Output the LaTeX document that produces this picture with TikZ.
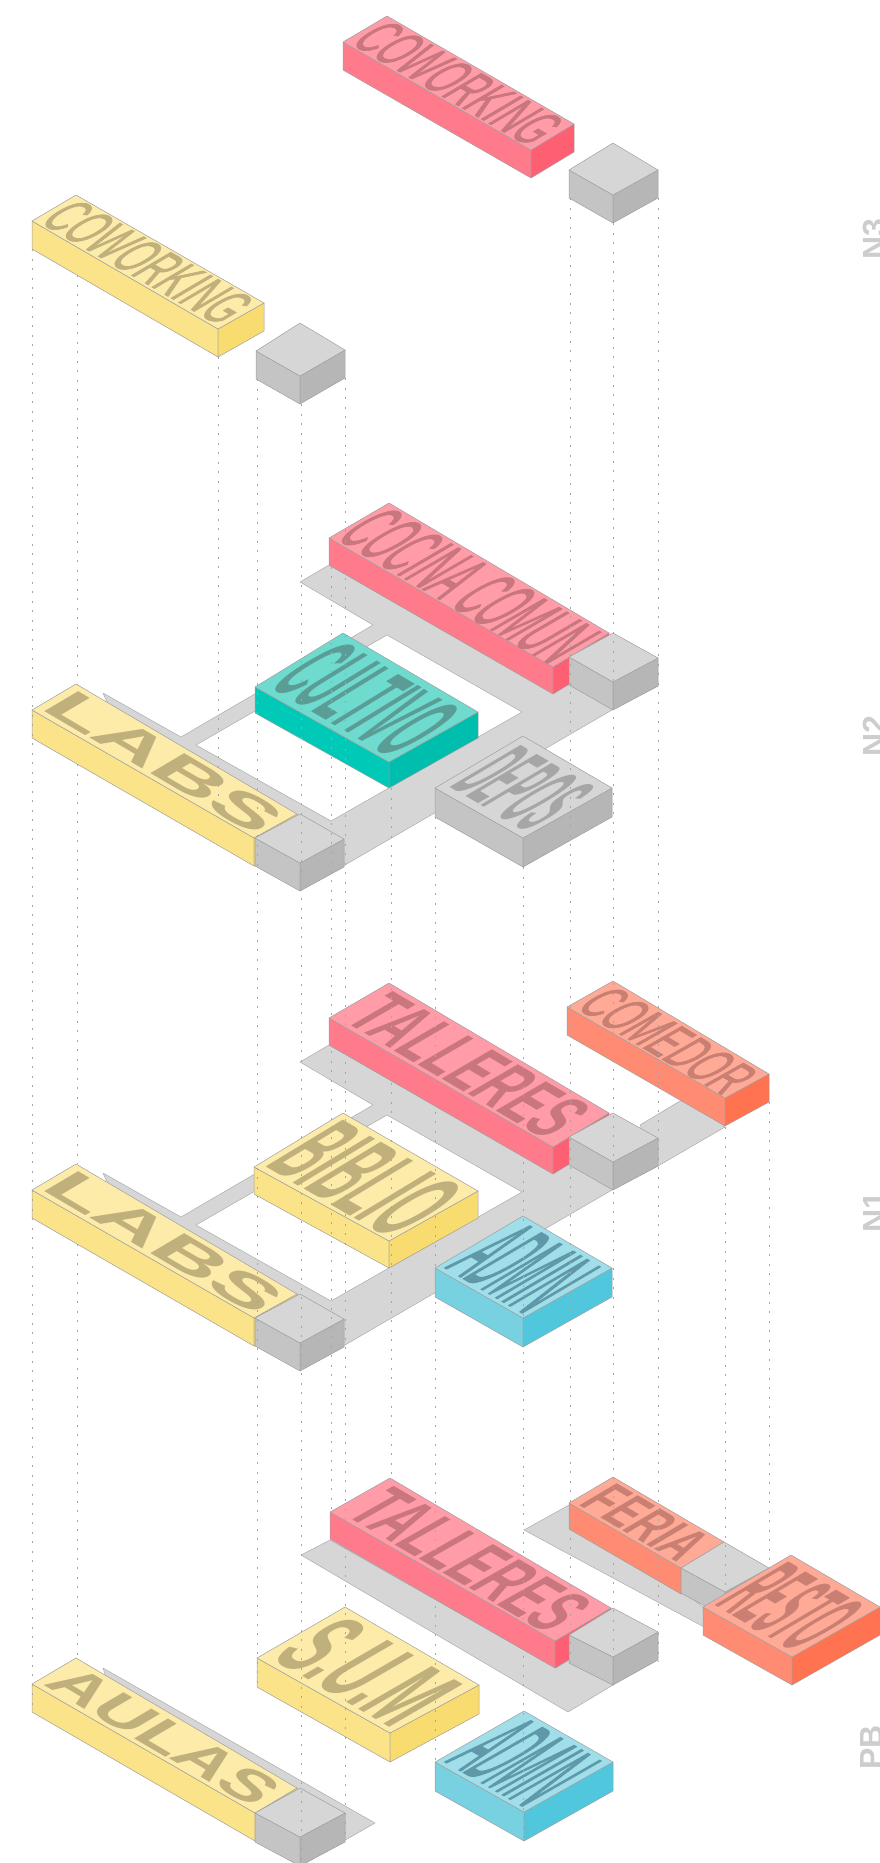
\documentclass[tikz,border=0pt]{standalone}
\usepackage{fontspec}
\setmainfont{Liberation Sans}
\newfontfamily\mediafont[FakeBold=1.6]{Liberation Sans}
\usetikzlibrary{calc}

\definecolor{rosaTop}{HTML}{FF9CA7}
\definecolor{rosaLeft}{HTML}{FF7B8B}
\definecolor{rosaRight}{HTML}{FF5F72}
\definecolor{rosaTxt}{HTML}{C9767F}
\definecolor{amaTop}{HTML}{FCEBA9}
\definecolor{amaLeft}{HTML}{FBE38A}
\definecolor{amaRight}{HTML}{F9DC70}
\definecolor{amaTxt}{HTML}{BFB07C}
\definecolor{grisTop}{HTML}{D6D6D6}
\definecolor{grisLeft}{HTML}{C4C4C4}
\definecolor{grisRight}{HTML}{B6B6B6}
\definecolor{grisTxt}{HTML}{A6A6A6}
\definecolor{tealTop}{HTML}{6FDACE}
\definecolor{tealLeft}{HTML}{00C9B7}
\definecolor{tealRight}{HTML}{00BEAD}
\definecolor{tealTxt}{HTML}{5A9D96}
\definecolor{coralTop}{HTML}{FFAA97}
\definecolor{coralLeft}{HTML}{FF8C72}
\definecolor{coralRight}{HTML}{FF7350}
\definecolor{coralTxt}{HTML}{C97F71}
\definecolor{azulTop}{HTML}{A0DEEA}
\definecolor{azulLeft}{HTML}{78D1E0}
\definecolor{azulRight}{HTML}{50C7DC}
\definecolor{azulTxt}{HTML}{5F99A9}

\tikzset{
  borde/.style={draw=gray!75, line width=.5pt, line join=round},
  piso/.style={fill=grisTop, draw=gray!65, line width=.5pt, line join=round},
  punteada/.style={gray!70, line width=1pt, dash pattern=on 2pt off 7.5pt},
  nivel/.style={rotate=90, anchor=base west, inner sep=0pt, text=grisTop!90!gray, font=\fontsize{32}{32}\selectfont\bfseries}
}

% bloque: nombre, esquinas L T R F de la tapa, altura, familia de color
\newcommand{\bloque}[7]{
  \coordinate (#1L) at (#2);
  \coordinate (#1T) at (#3);
  \coordinate (#1R) at (#4);
  \coordinate (#1F) at (#5);
  \coordinate (#1C) at ($(#1L)!.5!(#1R)$);
  \fill[#7Left, borde] (#1L) -- (#1F) -- ($(#1F)+(0,#6)$) -- ($(#1L)+(0,#6)$) -- cycle;
  \fill[#7Right, borde] (#1F) -- (#1R) -- ($(#1R)+(0,#6)$) -- ($(#1F)+(0,#6)$) -- cycle;
  \fill[#7Top, borde] (#1L) -- (#1T) -- (#1R) -- (#1F) -- cycle;
}

% rotulo: texto deformado sobre la tapa del bloque
\newcommand{\rotulo}[5]{
  \pgfpointdiff{\pgfpointanchor{#1T}{center}}{\pgfpointanchor{#1R}{center}}
  \pgfgetlastxy{\ux}{\uy}
  \pgfmathsetmacro{\ma}{\ux*#4/10}
  \pgfmathsetmacro{\mb}{\uy*#4/10}
  \pgfpointdiff{\pgfpointanchor{#1L}{center}}{\pgfpointanchor{#1T}{center}}
  \pgfgetlastxy{\vx}{\vy}
  \pgfmathsetmacro{\mc}{\vx*#5/10}
  \pgfmathsetmacro{\md}{\vy*#5/10}
  \node[inner sep=0pt, text=#3Txt, transform shape, cm={\ma,\mb,\mc,\md,(#1C)}] (#1Txt) at (0,0) {\resizebox{10pt}{10pt}{\bfseries #2}};
}

\begin{document}
\begin{tikzpicture}[x=1pt, y=-1pt]
  \path[use as bounding box, clip] (0,0) rectangle (880,1863);

  % 1. Nivel N3
  \bloque{cowRosa}{343,42}{387,16}{574,124}{531,150}{28}{rosa}
  \rotulo{cowRosa}{\mdseries\mediafont COWORKING}{rosa}{.96}{.9}
  \bloque{nucleoA}{569,170}{613,143}{658,170}{613,195}{28}{gris}
  \bloque{cowAma}{32,221}{76,195}{264,303}{218,329}{28}{ama}
  \rotulo{cowAma}{\mdseries\mediafont COWORKING}{ama}{.96}{.9}
  \bloque{nucleoB}{256,351}{300,323}{345,350}{300,376}{28}{gris}

  % 2. Losas de N2 y N1 (misma planta, corrida 480 hacia abajo)
  \foreach \dy in {0,480}{
    \begin{scope}[shift={(0,\dy)}]
      \filldraw[piso, even odd rule] (300,582) -- (329,565) -- (553,693) -- (600,660) -- (655,680) -- (658,686) -- (612,710) -- (345,865) -- (300,880) -- (255,855) -- (120,730) -- (103,693) -- (181,737) -- (373,625) -- cycle
        (196,745) -- (331,821) -- (522,712) -- (387,635) -- cycle;
    \end{scope}
  }

  % 3. Nivel N2
  \bloque{cocina}{329,538}{389,503}{609,633}{553,667}{27}{rosa}
  \rotulo{cocina}{\mdseries\mediafont COCINA COMUN}{rosa}{.98}{.9}
  \bloque{nucleoC}{569,657}{613,633}{658,658}{613,682}{28}{gris}
  \bloque{cultivo}{255,687}{343,633}{478,712}{389,762}{26}{teal}
  \rotulo{cultivo}{CULTIVO}{teal}{.92}{.85}
  \bloque{labsA}{32,710}{76,684}{297,814}{254,838}{28}{ama}
  \rotulo{labsA}{LABS}{ama}{.98}{.78}
  \bloque{nucleoD}{255,838}{300,814}{344,839}{300,863}{28}{gris}
  \bloque{depos}{435,788}{523,736}{612,788}{523,838}{29}{gris}
  \rotulo{depos}{DEPOS}{gris}{.88}{.82}

  % 4. Nivel N1
  \filldraw[piso] (640,1125) -- (690,1095) -- (725,1127) -- (658,1166) -- cycle;
  \bloque{talleresA}{329,1018}{389,983}{609,1113}{553,1147}{27}{rosa}
  \rotulo{talleresA}{TALLERES}{rosa}{.92}{.85}
  \bloque{nucleoE}{569,1137}{613,1113}{658,1138}{613,1162}{28}{gris}
  \bloque{comedor}{567,1007}{613,981}{769,1074}{725,1098}{28}{coral}
  \rotulo{comedor}{\mdseries\mediafont COMEDOR}{coral}{.95}{.85}
  \bloque{biblio}{254,1167}{343,1113}{478,1191}{389,1241}{27}{ama}
  \rotulo{biblio}{BIBLIO}{ama}{.95}{.88}
  \bloque{labsB}{32,1190}{76,1164}{297,1294}{254,1318}{28}{ama}
  \rotulo{labsB}{LABS}{ama}{.98}{.78}
  \bloque{nucleoF}{255,1318}{300,1294}{344,1319}{300,1343}{28}{gris}
  \bloque{adminA}{435,1268}{523,1216}{612,1268}{523,1318}{29}{azul}
  \rotulo{adminA}{\mdseries\mediafont ADMIN}{azul}{.9}{.88}

  % 5. Planta baja: losas y bloques
  \filldraw[piso] (301,1555) -- (330,1540) -- (556,1668) -- (600,1640) -- (650,1650) -- (613,1685) -- (568,1712) -- cycle;
  \filldraw[piso] (524,1530) -- (569,1505) -- (681,1590) -- (703,1607) -- (704,1627) -- cycle;
  \bloque{talleresB}{330,1512}{390,1478}{611,1608}{555,1641}{27}{rosa}
  \rotulo{talleresB}{TALLERES}{rosa}{.92}{.85}
  \bloque{nucleoG}{569,1635}{613,1608}{658,1632}{613,1657}{28}{gris}
  \bloque{feria}{569,1503}{613,1477}{724,1542}{681,1568}{26}{coral}
  \rotulo{feria}{FERIA}{coral}{.9}{.85}
  \bloque{nucleoH}{681,1568}{724,1542}{769,1568}{725,1592}{25}{gris}
  \bloque{resto}{703,1607}{791,1555}{880,1607}{792,1657}{28}{coral}
  \rotulo{resto}{RESTO}{coral}{.92}{.85}
  \bloque{sum}{257,1658}{345,1607}{479,1685}{390,1733}{29}{ama}
  \rotulo{sum}{S.U.M}{ama}{.92}{.85}
  \bloque{adminB}{435,1762}{524,1711}{613,1762}{524,1812}{29}{azul}
  \rotulo{adminB}{\mdseries\mediafont ADMIN}{azul}{.9}{.88}
  \filldraw[piso] (103,1668) -- (375,1823) -- (300,1866) -- (120,1720) -- cycle;
  \bloque{aulas}{32,1684}{76,1658}{297,1788}{255,1813}{28}{ama}
  \rotulo{aulas}{AULAS}{ama}{.95}{.78}
  \bloque{nucleoI}{255,1813}{300,1788}{345,1813}{300,1837}{29}{gris}

  % 6. Verticales punteadas entre niveles
  \foreach \xp/\ya/\yb in {32/249/1712, 77/275/684, 77/764/1164, 77/1244/1658, 218/357/810, 257/379/1687, 301/404/1863, 345/378/1840, 331/538/1540, 391/788/1478, 435/817/1790, 523/867/1841, 570/198/1662, 613/223/1685, 658/198/1662, 725/1127/1592, 769/1102/1565}
    \draw[punteada] (\xp,\ya) -- (\xp,\yb);

  % 7. Rotulos de nivel
  \node[nivel] (labelNtres) at (885,260) {N3};
  \node[nivel] (labelNdos) at (885,757) {N2};
  \node[nivel] (labelNuno) at (885,1233) {N1};
  \node[nivel] (labelPB) at (882,1770) {PB};
\end{tikzpicture}
\end{document}
